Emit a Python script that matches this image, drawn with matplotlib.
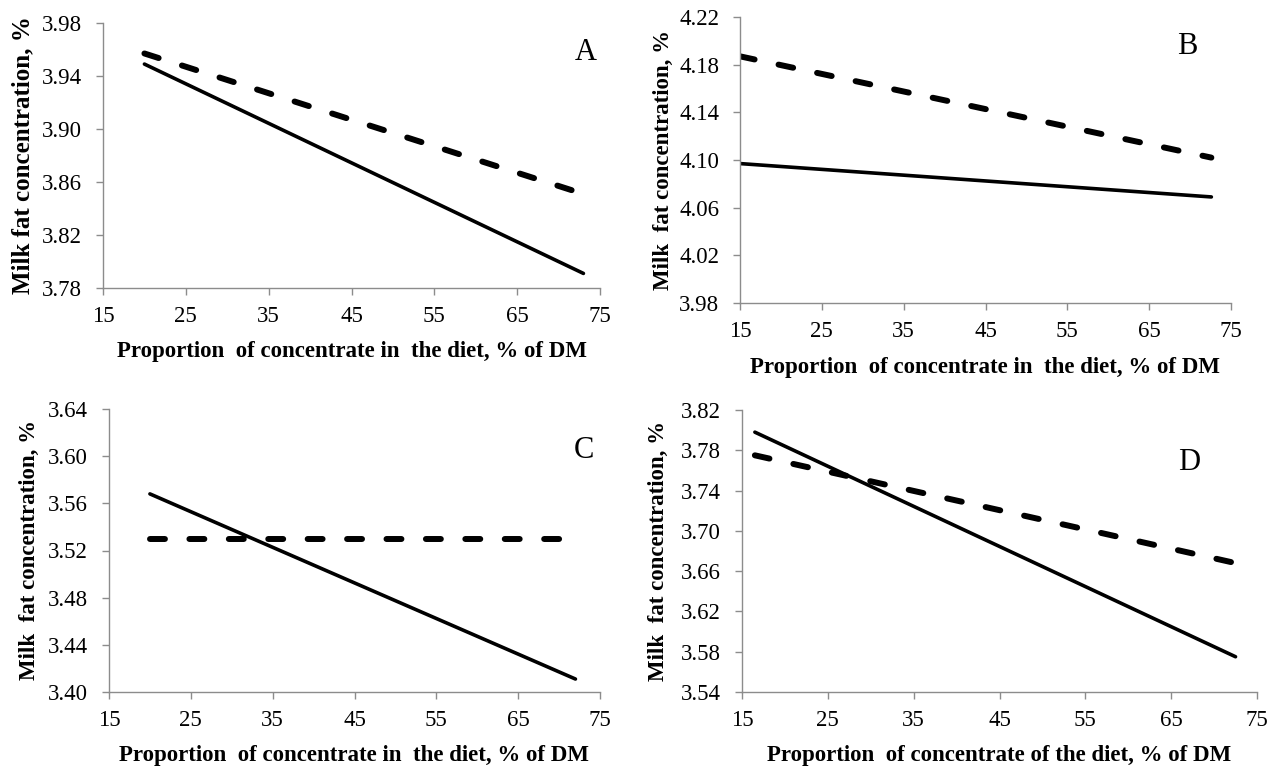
import matplotlib
matplotlib.use('Agg')
import matplotlib.pyplot as plt

plt.rcParams['font.family'] = ['Liberation Serif', 'DejaVu Serif']

W, H = 1281, 771

# panel data: concentrate proportion (% of DM) and milk fat (%)
a_x = [20, 73]
a_solid = [3.949, 3.791]
a_dashed = [3.957, 3.851]

b_x = [15, 72.6]
b_solid = [4.097, 4.069]
b_dashed = [4.187, 4.102]

c_x = [20, 72]
c_solid = [3.568, 3.411]
c_dashed = [3.53, 3.53]

d_x = [16.5, 72.5]
d_solid = [3.798, 3.575]
d_dashed = [3.775, 3.668]

x_ticks = [15, 25, 35, 45, 55, 65, 75]
a_yticks = [3.78, 3.82, 3.86, 3.90, 3.94, 3.98]
b_yticks = [3.98, 4.02, 4.06, 4.10, 4.14, 4.18, 4.22]
c_yticks = [3.40, 3.44, 3.48, 3.52, 3.56, 3.60, 3.64]
d_yticks = [3.54, 3.58, 3.62, 3.66, 3.70, 3.74, 3.78, 3.82]

xlab_in = 'Proportion  of concentrate in  the diet, % of DM'
xlab_of = 'Proportion  of concentrate of the diet, % of DM'
ylab_a = 'Milk fat concentration, %'
ylab = 'Milk  fat concentration, %'

panels = [
    # box in pixels: left, top, right, bottom
    ('A', (103, 23, 600, 288), a_x, a_solid, a_dashed, a_yticks, xlab_in, ylab_a, (586, 53), 23, 18),
    ('B', (740, 17, 1231, 303), b_x, b_solid, b_dashed, b_yticks, xlab_in, ylab, (1187, 47), 663, 16.5),
    ('C', (109, 409, 600, 692), c_x, c_solid, c_dashed, c_yticks, xlab_in, ylab, (584, 450), 29, 16.5),
    ('D', (742, 410, 1257, 692), d_x, d_solid, d_dashed, d_yticks, xlab_of, ylab, (1189, 463), 658, 16.5),
]

fig = plt.figure(figsize=(W / 100, H / 100), dpi=100)
grey = '#8c8c8c'

for letter, box, x, ys, yd, yt, xlab, ylb, lpos, ylx, yfs in panels:
    l, t, r, b = box
    ax = fig.add_axes([l / W, 1 - b / H, (r - l) / W, (b - t) / H])
    ax.plot(x, ys, color='black', lw=2.6, solid_capstyle='round')
    ax.plot(x, yd, color='black', lw=4.3, dash_capstyle='round', dashes=(2.5, 4.1))
    ax.set_xlim(15, 75)
    ax.set_ylim(yt[0], yt[-1])
    ax.set_xticks(x_ticks)
    ax.set_yticks(yt)
    ax.set_yticklabels(['%.2f' % v for v in yt])
    for s in ['top', 'right']:
        ax.spines[s].set_visible(False)
    for s in ['left', 'bottom']:
        ax.spines[s].set_color(grey)
        ax.spines[s].set_linewidth(1.0)
    ax.tick_params(axis='both', direction='out', length=5, width=1.0, color=grey,
                   labelsize=16.5)
    ax.tick_params(axis='x', pad=8)
    ax.tick_params(axis='y', pad=10)

    fig.text((l + r) / 2 / W, 1 - (b + 64) / H, xlab, ha='center', va='center',
             fontsize=16.5, fontweight='bold')
    fig.text(ylx / W, 1 - (t + b) / 2 / H, ylb, ha='center', va='center',
             rotation=90, fontsize=yfs, fontweight='bold')
    fig.text(lpos[0] / W, 1 - lpos[1] / H, letter, ha='center', va='center', fontsize=22)

fig.savefig('out.png', dpi=100)
